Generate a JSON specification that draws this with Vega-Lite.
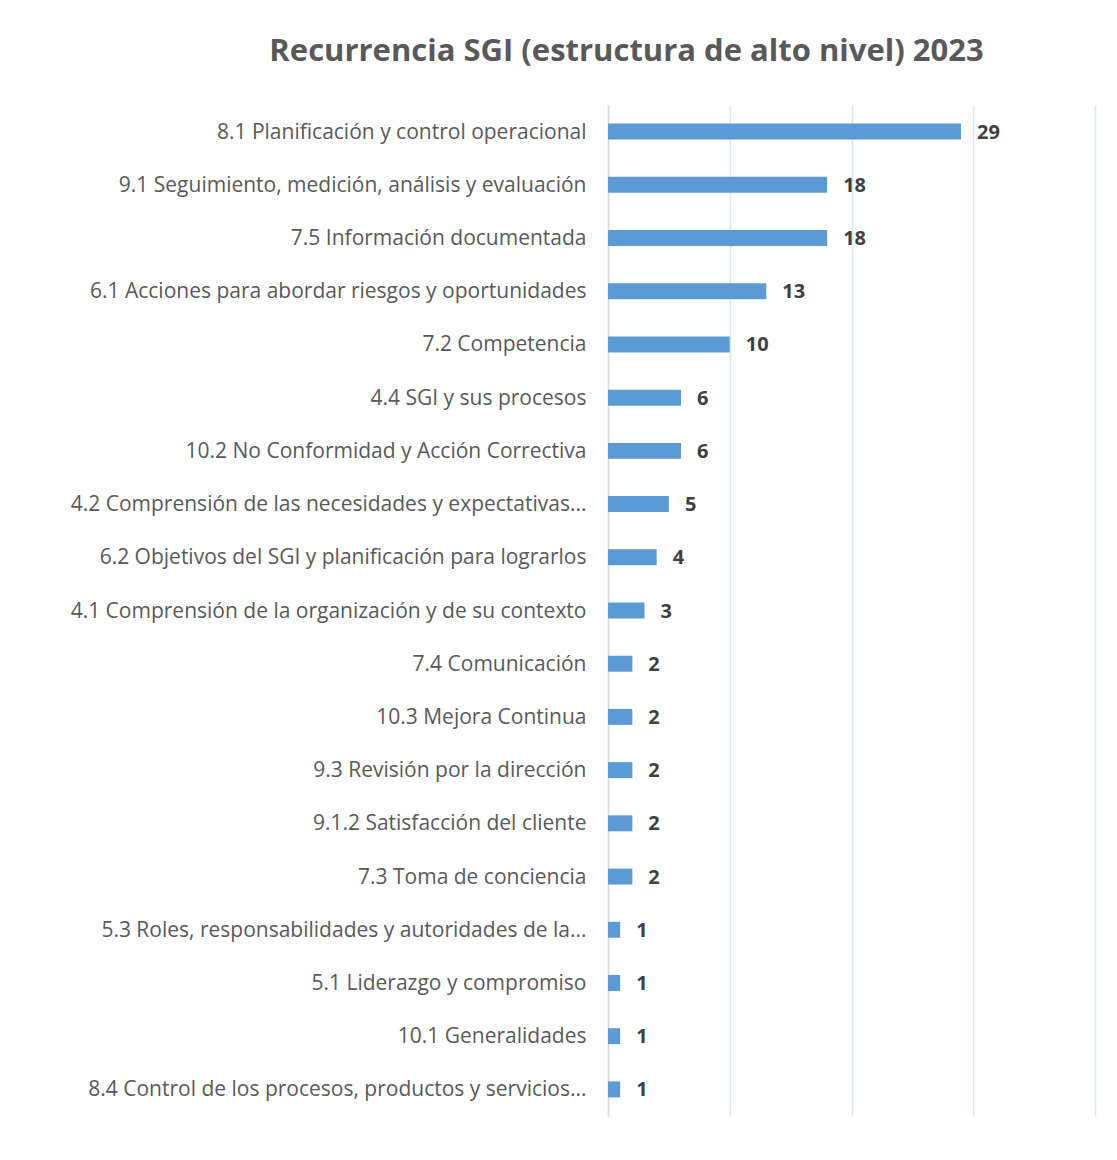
{
  "$schema": "https://vega.github.io/schema/vega-lite/v6.json",
  "autosize": {"type": "none"},
  "width": 487,
  "height": 1011,
  "padding": {"left": 608, "top": 105, "right": 22, "bottom": 44},
  "background": "white",
  "title": {
    "text": "Recurrencia SGI (estructura de alto nivel) 2023",
    "font": "Open Sans",
    "fontSize": 31,
    "fontWeight": "bold",
    "color": "#595959",
    "anchor": "middle",
    "dx": -225,
    "offset": 37
  },
  "data": {
    "values": [
      {"clausula": "8.1 Planificación y control operacional", "n": 29},
      {"clausula": "9.1 Seguimiento, medición, análisis y evaluación", "n": 18},
      {"clausula": "7.5 Información documentada", "n": 18},
      {"clausula": "6.1 Acciones para abordar riesgos y oportunidades", "n": 13},
      {"clausula": "7.2 Competencia", "n": 10},
      {"clausula": "4.4 SGI y sus procesos", "n": 6},
      {"clausula": "10.2 No Conformidad y Acción Correctiva", "n": 6},
      {"clausula": "4.2 Comprensión de las necesidades y expectativas...", "n": 5},
      {"clausula": "6.2 Objetivos del SGI y planificación para lograrlos", "n": 4},
      {"clausula": "4.1 Comprensión de la organización y de su contexto", "n": 3},
      {"clausula": "7.4 Comunicación", "n": 2},
      {"clausula": "10.3 Mejora Continua", "n": 2},
      {"clausula": "9.3 Revisión por la dirección", "n": 2},
      {"clausula": "9.1.2 Satisfacción del cliente", "n": 2},
      {"clausula": "7.3 Toma de conciencia", "n": 2},
      {"clausula": "5.3 Roles, responsabilidades y autoridades de la...", "n": 1},
      {"clausula": "5.1 Liderazgo y compromiso", "n": 1},
      {"clausula": "10.1 Generalidades", "n": 1},
      {"clausula": "8.4 Control de los procesos, productos y servicios...", "n": 1}
    ]
  },
  "encoding": {
    "y": {
      "field": "clausula",
      "type": "nominal",
      "sort": null,
      "scale": {"paddingInner": 0.7, "paddingOuter": 0.35},
      "axis": {
        "title": null,
        "ticks": false,
        "labelFont": "Open Sans",
        "labelFontSize": 21,
        "labelColor": "#595959",
        "labelPadding": 22,
        "labelLimit": 600,
        "labelOffset": 1,
        "domainColor": "#d9d9d9",
        "domainWidth": 1.5
      }
    },
    "x": {
      "field": "n",
      "type": "quantitative",
      "scale": {"domain": [0, 40], "nice": false},
      "axis": {
        "title": null,
        "labels": false,
        "ticks": false,
        "domain": false,
        "values": [0, 10, 20, 30, 40],
        "gridColor": "#dbe7f4",
        "gridWidth": 1.5
      }
    }
  },
  "layer": [
    {"mark": {"type": "bar", "color": "#5b9bd5"}},
    {
      "mark": {
        "type": "text",
        "align": "left",
        "baseline": "middle",
        "dx": 16,
        "dy": 1,
        "font": "Open Sans",
        "fontSize": 20,
        "fontWeight": "bold",
        "color": "#404040"
      },
      "encoding": {"text": {"field": "n", "type": "quantitative"}}
    }
  ],
  "config": {"view": {"stroke": null}}
}
